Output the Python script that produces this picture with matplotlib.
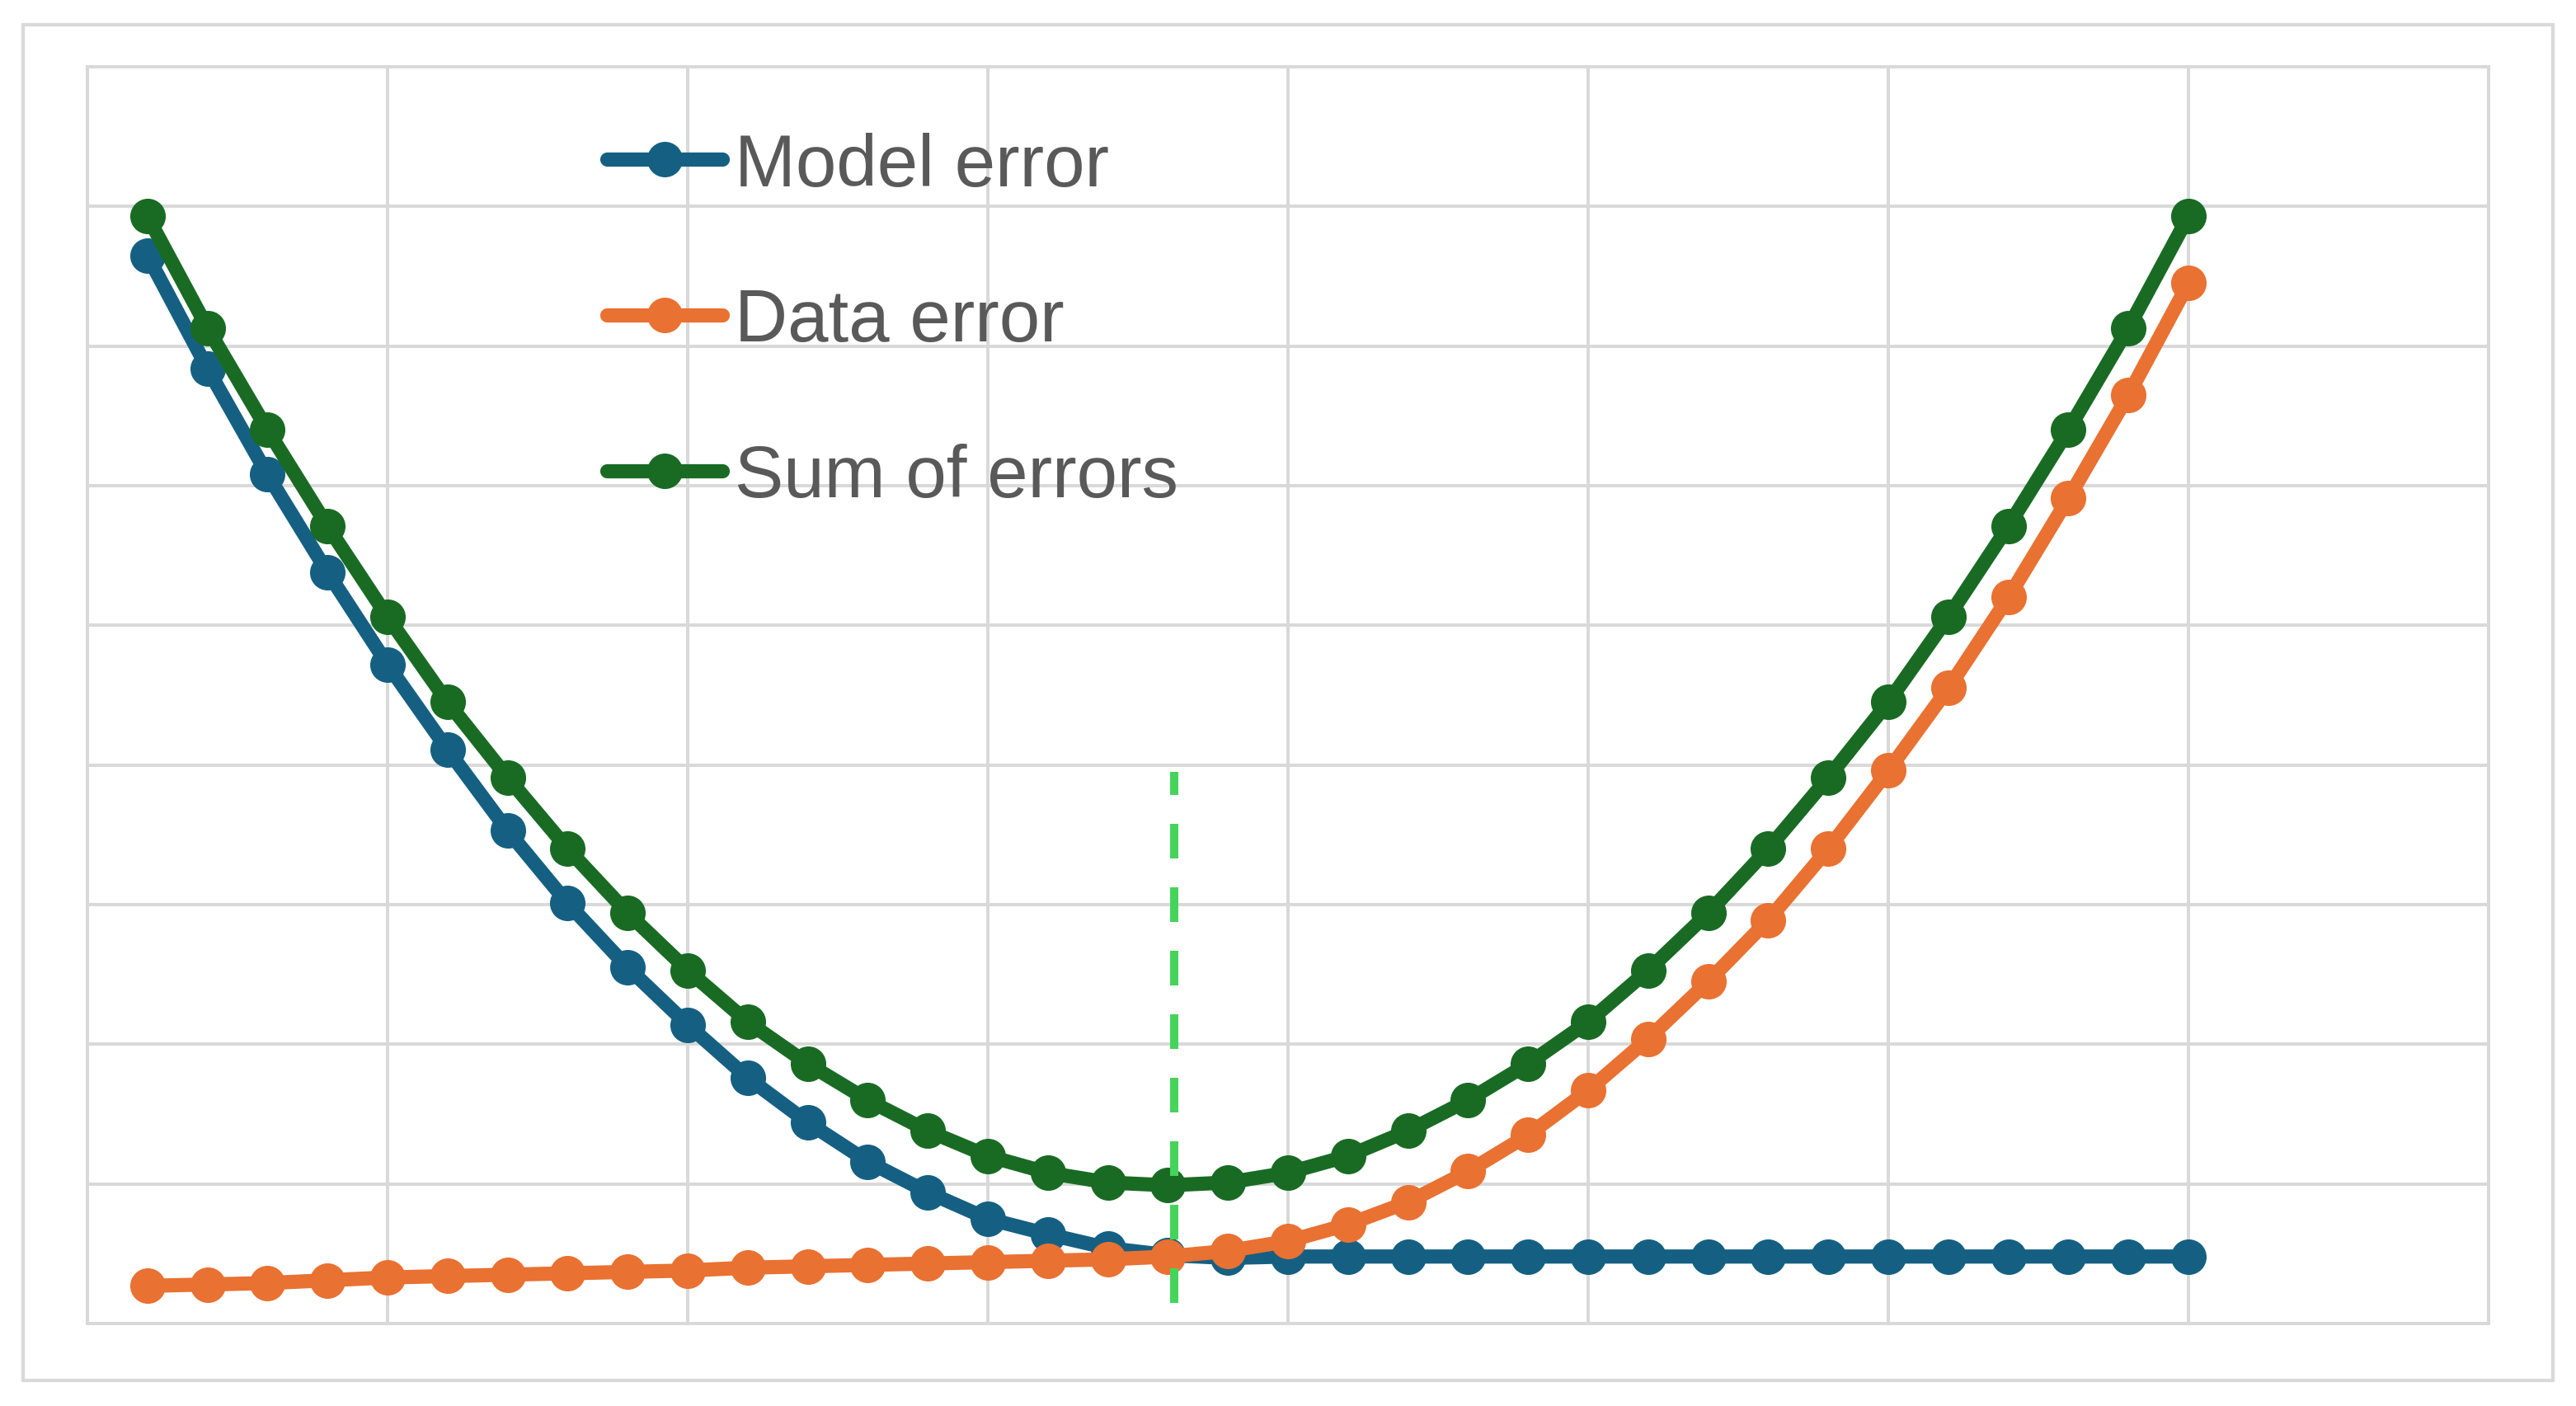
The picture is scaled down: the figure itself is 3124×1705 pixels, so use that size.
import numpy as np
import matplotlib
matplotlib.use('Agg')
import matplotlib.pyplot as plt
from matplotlib.patches import Rectangle

# values (arbitrary units, grid step = 1)
x = np.arange(1, 36)
model_error = [7.65, 6.84, 6.08, 5.38, 4.72, 4.11, 3.53, 3.01, 2.55, 2.14,
               1.76, 1.44, 1.16, 0.94, 0.75, 0.64, 0.54, 0.49, 0.47, 0.48,
               0.48, 0.48, 0.48, 0.48, 0.48, 0.48, 0.48, 0.48, 0.48, 0.48,
               0.48, 0.48, 0.48, 0.48, 0.48]
data_error = [0.27, 0.28, 0.29, 0.31, 0.33, 0.34, 0.35, 0.36, 0.37, 0.38,
              0.40, 0.41, 0.42, 0.43, 0.44, 0.45, 0.46, 0.48, 0.52, 0.59,
              0.71, 0.87, 1.09, 1.35, 1.67, 2.04, 2.45, 2.89, 3.40, 3.96,
              4.55, 5.20, 5.91, 6.65, 7.45]
sum_errors = [7.93, 7.13, 6.40, 5.71, 5.06, 4.45, 3.91, 3.40, 2.94, 2.53,
              2.16, 1.86, 1.60, 1.38, 1.20, 1.08, 1.01, 0.99, 1.01, 1.08,
              1.20, 1.38, 1.60, 1.86, 2.16, 2.53, 2.94, 3.40, 3.91, 4.45,
              5.06, 5.71, 6.40, 7.13, 7.93]
optimum_x = 18.1
optimum_y = [0.15, 3.95]

grid_col = '#D9D9D9'

fig = plt.figure(figsize=(15.62, 8.53), dpi=200)
ax = fig.add_axes([0.0339, 0.0586, 0.9322, 0.8934])

# outer chart border
fig.patches.append(Rectangle((28 / 3124, 31 / 1706), (3096 - 28) / 3124, (1675 - 31) / 1706,
                             transform=fig.transFigure, fill=False,
                             edgecolor=grid_col, linewidth=1.5))

style = dict(lw=6.2, marker='o', ms=14.5, solid_capstyle='round', solid_joinstyle='round')
ax.plot(x, model_error, color='#156082', label='Model error', zorder=3, **style)
ax.plot(x, data_error, color='#E97132', label='Data error', zorder=4, **style)
ax.plot(x, sum_errors, color='#196B24', label='Sum of errors', zorder=5, **style)
ax.plot([optimum_x, optimum_x], optimum_y, color='#45D45B', lw=3.6,
        dashes=(4.2, 3.5), zorder=6)

ax.set_xlim(0, 40)
ax.set_ylim(0, 9)
ax.set_xticks(np.arange(0, 41, 5))
ax.set_yticks(np.arange(0, 10, 1))
ax.tick_params(length=0, labelbottom=False, labelleft=False)
ax.grid(True, color=grid_col, lw=1.44)
ax.set_axisbelow(True)
for s in ax.spines.values():
    s.set_color(grid_col)
    s.set_linewidth(1.44)

leg = ax.legend(loc='upper left', bbox_to_anchor=(0.2164, 0.9484), frameon=False,
                borderpad=0, borderaxespad=0, handlelength=1.57, handletextpad=0.17,
                labelspacing=1.18, prop={'family': 'Liberation Sans', 'size': 32})
for t in leg.get_texts():
    t.set_color('#595959')

fig.savefig('out.png', dpi=200, facecolor='white')
